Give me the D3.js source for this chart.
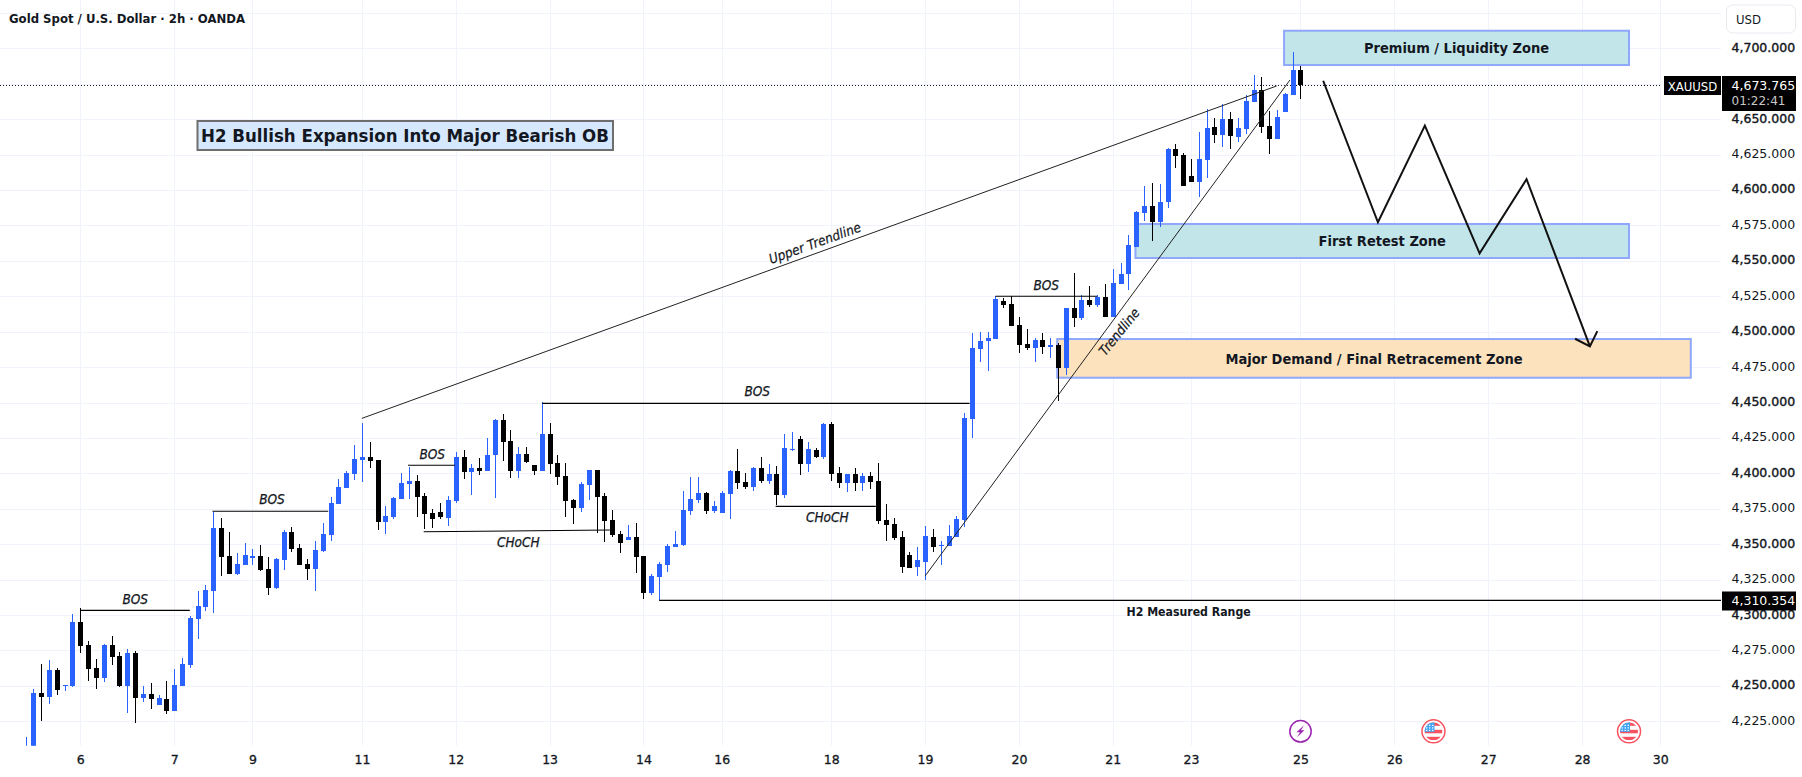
<!DOCTYPE html>
<html><head><meta charset="utf-8">
<script src="https://cdnjs.cloudflare.com/ajax/libs/d3/7.8.5/d3.min.js"></script>
<style>
html,body{margin:0;padding:0;background:#fff;overflow:hidden}
svg{display:block}
text{font-family:"DejaVu Sans",sans-serif;fill:#131722}
.cond{font-family:"DejaVu Sans Condensed","DejaVu Sans",sans-serif;font-stretch:condensed}
</style></head><body>
<svg id="c" width="1802" height="777"></svg>
<script>
// ---- data: bar index of first candle, then OHLC prices (2h bars)
const firstBar = -7;
const opens = [4195,4200,4245,4242.4,4261.2,4249.9,4249.9,4295.1,4278.8,4262.6,4255.6,4278.8,4271.1,4249.9,4273.2,4241.4,4244.2,4236.5,4240.7,4232.2,4249.9,4264.7,4297.2,4305.7,4317,4361.4,4341.7,4328.9,4335.3,4340.3,4341.7,4332.5,4319.1,4338.8,4358.6,4347.3,4336,4332.5,4345.2,4356.5,4378.4,4389.7,4399.5,4409.4,4411.5,4409.4,4365.7,4369.2,4381.9,4392.5,4394.6,4384,4372,4372.7,4368.5,4380.5,4411.5,4401,4403.8,4401.7,4413,4437.7,4422.8,4401.7,4413.7,4405.9,4401.7,4427.8,4407.3,4398.1,4381.2,4375.5,4391.8,4402.4,4384,4367.1,4357.2,4353,4355.1,4341.7,4315.5,4326.8,4335.3,4348,4349.4,4373.4,4381.2,4386.1,4373.4,4372,4385.4,4401.6,4393.8,4390.3,4403.7,4394.5,4399.5,4384.7,4417.1,4424.2,4406.5,4416.4,4411.5,4434.8,4400.2,4393.1,4399.5,4393.1,4398.1,4394.5,4367,4364.2,4355,4342.3,4333.8,4337.4,4355,4348.7,4348.7,4355,4367,4438.3,4487.7,4493.4,4494.8,4521.6,4519.5,4504.7,4491.2,4488.4,4494.1,4489.4,4490.5,4474.3,4516.7,4509.6,4522.3,4518.8,4524.5,4510.3,4533.6,4540.7,4559.8,4583.8,4588.7,4577.4,4591.5,4628.9,4624.7,4609.9,4605.6,4621.2,4644.5,4638.8,4650.1,4637.4,4643,4662.1,4670.6,4645.2,4636,4655.1,4667.1,4684.7];
const highs = [4214,4247.8,4265.4,4268.2,4262.6,4250.6,4300.7,4304.7,4281.7,4269,4279.5,4285.2,4273.9,4276,4274.6,4249.9,4252,4243.5,4253.4,4261.9,4269.7,4299.3,4317,4321.2,4372.7,4368.5,4358.6,4343.8,4350.8,4346.6,4349.4,4341,4340.3,4360,4362.1,4350.1,4339.5,4352.2,4365,4383.3,4396,4401.7,4420,4435.5,4422.1,4409.4,4377,4383.3,4400.3,4404.5,4398.8,4386.1,4374.8,4379.1,4384,4415.1,4416.5,4406.6,4410.8,4425,4438.4,4441.9,4430.6,4418.6,4418.6,4405.9,4450.1,4435.5,4413,4407.3,4381.9,4393.9,4402.4,4402.4,4386.1,4374.1,4359.3,4363.5,4365,4341.7,4329,4337.4,4350.1,4359.3,4387.5,4397.4,4397.4,4386.8,4380.5,4387.5,4402.4,4417.1,4400.2,4404.4,4411.5,4406.5,4405.1,4427.7,4429.1,4426.3,4422.1,4417.8,4435.5,4436.2,4404.4,4399.5,4403.7,4400.2,4400.9,4407.2,4378.3,4368.4,4359.2,4344.4,4348,4362.8,4360.6,4352.2,4363.5,4369.8,4442.5,4499,4499.7,4499.7,4525.1,4523.7,4525.1,4510.3,4501.8,4495.5,4499,4495.5,4492,4516.7,4541.4,4525.8,4532.2,4525.8,4533.6,4544.2,4548.5,4568.2,4585.2,4602.8,4604.9,4604.2,4629.6,4632.5,4626.1,4621.9,4640.9,4657.2,4650.8,4660.7,4655.1,4650.8,4667,4681.2,4679.8,4655.8,4656.5,4668.5,4697.4,4687.5];
const lows = [4190,4195,4225.4,4237.2,4243.5,4246.4,4249.2,4273.2,4253.4,4247.8,4252.7,4264.7,4249.2,4230.8,4223.8,4238.6,4233.7,4236.5,4230.1,4232.2,4249.9,4262.6,4283.1,4302.8,4301.4,4327.5,4328.9,4328.3,4335.3,4335.3,4331.1,4314.1,4318.4,4331.8,4344.5,4335.3,4324.7,4317,4344.5,4352.2,4378.4,4389.7,4395.3,4393.9,4403.8,4360,4357.2,4367.8,4381.9,4381.9,4369.2,4360.7,4361.4,4367.8,4362.8,4379.1,4396,4384.7,4398.8,4401.7,4382.6,4408.7,4396.7,4396.7,4407.3,4398.8,4401.7,4399.5,4391.8,4369.2,4364.3,4372.7,4381.2,4357.9,4351.5,4355.1,4343.8,4353,4329.7,4311.3,4314.1,4310.6,4330.4,4348,4348.7,4370.6,4379.1,4371.3,4372,4372,4367.8,4388.9,4388.9,4387.5,4393.1,4392.4,4377.6,4382.5,4415.7,4398.8,4400.9,4410.8,4410.1,4394.5,4389.6,4386.8,4387.5,4387.5,4388.9,4364.2,4352.2,4352.9,4329.6,4333.1,4327.5,4324.7,4344.4,4335.2,4348.7,4355,4362.1,4424.9,4478.5,4472.2,4494.8,4516.7,4504,4484.9,4487,4478.5,4484.2,4481.4,4451,4469.4,4503.2,4508.2,4517.4,4517.4,4510.3,4510.3,4533.6,4529.4,4559.8,4578.1,4564,4573.9,4587.3,4615.5,4602.8,4605.6,4595.1,4608.5,4633.2,4630.4,4628.9,4633.9,4639.5,4662.1,4640.2,4625.4,4636,4655.1,4667.1,4664.2];
const closes = [4205,4245,4242.4,4261.2,4247.1,4250.6,4295.1,4278.1,4261.9,4255.6,4278.8,4270.4,4249.9,4273.2,4241.4,4244.2,4240.7,4241.4,4232.2,4250.6,4265.4,4297.9,4306.4,4317.7,4361.4,4341,4328.9,4336,4342.4,4341.7,4331.8,4319.1,4339.5,4358.6,4346.6,4335.3,4332.5,4345.9,4357.2,4379.1,4390.4,4400.3,4410.1,4411.5,4408.7,4365.7,4369.9,4382.6,4393.2,4394.6,4383.3,4371.3,4367.8,4369.2,4381.2,4411.5,4401,4403.8,4401.7,4413,4437.7,4422.1,4401.7,4413.7,4408,4401.7,4427.8,4406.6,4397.4,4380.5,4375.5,4392.5,4402.4,4383.3,4366.4,4356.5,4350.8,4355.1,4341,4315.5,4327.5,4336,4348.7,4350.1,4374.1,4381.9,4386.1,4373.4,4377,4386.1,4401.7,4393.1,4390.3,4403.7,4394.5,4399.5,4384.7,4417.8,4417.1,4406.5,4417.1,4411.5,4434.8,4399.5,4393.1,4399.5,4393.1,4398.1,4393.8,4366.3,4363.5,4354.3,4333.8,4333.1,4338.8,4355.7,4348,4349.4,4355.7,4367.7,4439,4488.4,4493.4,4495.5,4523,4518.8,4504,4490.5,4488.4,4494.1,4489.1,4490.5,4474.3,4516.7,4509.6,4522.3,4518.8,4524.5,4510.3,4534.3,4540.7,4561.2,4584.5,4588.7,4577.4,4591.5,4628.9,4624,4602.8,4605.6,4621.9,4643.8,4638.8,4650.1,4638.1,4643.8,4662.8,4670.6,4644.5,4636,4651.5,4667.8,4684.7,4673.765];

const priceTicks = [4225,4250,4275,4300,4325,4350,4375,4400,4425,4450,4475,4500,4525,4550,4575,4600,4625,4650,4675,4700,4725];
const axisPriceTicks = [4225,4250,4275,4300,4325,4350,4375,4400,4425,4450,4475,4500,4525,4550,4575,4600,4625,4650,4700];
const dayBars   = [0,12,22,36,48,60,72,82,96,108,120,132,142,156,168,180,192,202];
const dayLabels = ["6","7","9","11","12","13","14","16","18","19","20","21","23","25","26","27","28","30"];

const lastPrice = 4673.765;
const rangeLow = 4310.354;
// drawings: [bar1, price1, bar2, price2]
const levelLines = [
 [0,4303.3,14,4303.3],[16.9,4373.2,31.7,4373.2],[41.9,4405.7,47.9,4405.7],
 [43.9,4358.8,67.7,4360],[59.05,4449.4,113.7,4449.4],[88.9,4376.7,101.7,4376.7],
 [117,4525,130,4525],[74,rangeLow,209.8,rangeLow]];
const trendLines = [[36,4438.8,152.95,4673.4],[108,4327.5,154.65,4677.6]];
const levelLabels = [
 ["BOS",7.03,4311.3,1],["BOS",24.5,4381.9,1],["BOS",45,4413.7,1],["CHoCH",56,4351.3,1],
 ["BOS",86.55,4458,1],["CHoCH",95.5,4369.2,1],["BOS",123.5,4533,1],["H2 Measured Range",141.7,4302.3,0]];
const zones = [
 {name:"Premium / Liquidity Zone",b1:153.9,b2:198,top:4712.4,bot:4688.2,fill:"#bde3e8"},
 {name:"First Retest Zone",b1:134.9,b2:198,top:4576,bot:4552,fill:"#bde3e8"},
 {name:"Major Demand / Final Retracement Zone",b1:124.9,b2:205.9,top:4494.8,bot:4467.5,fill:"#fde0b8"}];
const pathBars   = [158.9,165.9,171.9,178.9,184.9,193];
const pathPrices = [4677.1,4577.2,4645.4,4555.3,4607.6,4489.6];
const arrowBars   = [193.95,193,191.1];
const arrowPrices = [4500.4,4489.6,4495];
const events = [{bar:156,kind:"bolt"},{bar:173,kind:"flag"},{bar:198,kind:"flag"}];

// ---- scales
const W=1802,H=777,paneR=1721,paneB=745.7;
const x=d3.scaleLinear().domain([0,202]).range([80.3,1660.3]);
const y=d3.scaleLinear().domain([4700,4225]).range([48.3,721.3]);
const svg=d3.select("#c");
svg.append("defs").append("clipPath").attr("id","pane").append("rect").attr("width",paneR).attr("height",paneB);
const pane=svg.append("g").attr("clip-path","url(#pane)");

// grid
pane.append("g").selectAll("line").data(priceTicks).join("line")
 .attr("x1",0).attr("x2",paneR).attr("y1",d=>Math.round(y(d))+.5).attr("y2",d=>Math.round(y(d))+.5)
 .attr("stroke","#f0f3fa");
pane.append("g").selectAll("line").data(dayBars).join("line")
 .attr("y1",0).attr("y2",paneB).attr("x1",d=>Math.round(x(d))+.5).attr("x2",d=>Math.round(x(d))+.5)
 .attr("stroke","#f0f3fa");

// zones
pane.append("g").selectAll("rect").data(zones).join("rect")
 .attr("x",d=>x(d.b1)).attr("width",d=>x(d.b2)-x(d.b1)).attr("y",d=>y(d.top)).attr("height",d=>y(d.bot)-y(d.top))
 .attr("fill",d=>d.fill).attr("fill-opacity",.92).attr("stroke","#8fa8fb").attr("stroke-width",2);

// last price dotted line
pane.append("line").attr("x1",0).attr("x2",1662).attr("y1",Math.round(y(lastPrice))+.5).attr("y2",Math.round(y(lastPrice))+.5)
 .attr("stroke","#131722").attr("stroke-dasharray","1 2");

// candles
const candles=opens.map((o,i)=>({bar:firstBar+i,o,h:highs[i],l:lows[i],c:closes[i]}));
const cg=pane.append("g").attr("shape-rendering","crispEdges");
const col=d=>d.c>=d.o?"#2962ff":"#000";
cg.selectAll("rect.w").data(candles).join("rect").attr("class","w")
 .attr("x",d=>Math.round(x(d.bar))).attr("width",1)
 .attr("y",d=>y(d.h)).attr("height",d=>y(d.l)-y(d.h)).attr("fill",col);
cg.selectAll("rect.b").data(candles).join("rect").attr("class","b")
 .attr("x",d=>Math.round(x(d.bar))-2).attr("width",5)
 .attr("y",d=>y(Math.max(d.o,d.c))).attr("height",d=>Math.max(1,Math.abs(y(d.o)-y(d.c)))).attr("fill",col);

// level + trend lines
const drawLines=(data,w,c)=>pane.append("g").selectAll("line").data(data).join("line")
 .attr("x1",d=>x(d[0])).attr("y1",d=>y(d[1])).attr("x2",d=>x(d[2])).attr("y2",d=>y(d[3]))
 .attr("stroke",c).attr("stroke-width",w);
drawLines(levelLines,1.1,"#000");
drawLines(trendLines,1,"#222");

// zigzag
const zz=d3.line().x(d=>x(d[0])).y(d=>y(d[1]));
pane.append("path").attr("d",zz(pathBars.map((b,i)=>[b,pathPrices[i]])))
 .attr("fill","none").attr("stroke","#111").attr("stroke-width",2);
pane.append("path").attr("d",zz(arrowBars.map((b,i)=>[b,arrowPrices[i]])))
 .attr("fill","none").attr("stroke","#111").attr("stroke-width",2);

// texts
pane.append("g").selectAll("text").data(zones).join("text").text(d=>d.name).attr("class","cond")
 .attr("x",d=>(x(d.b1)+x(d.b2))/2).attr("y",d=>(y(d.top)+y(d.bot))/2).attr("dy","0.36em")
 .attr("text-anchor","middle").attr("font-size",14.5).attr("font-weight","bold");

pane.append("g").selectAll("text").data(levelLabels).join("text").text(d=>d[0]).attr("class","cond")
 .attr("x",d=>x(d[1])).attr("y",d=>y(d[2])).attr("dy","0.36em").attr("text-anchor","middle")
 .attr("font-size",d=>d[3]?13.5:12.2).attr("font-style",d=>d[3]?"italic":"normal")
 .attr("font-weight",d=>d[3]?"normal":"bold")
 .attr("stroke",d=>d[3]?"#131722":"none").attr("stroke-width",.25);

const rot=(label,bar,price,ang)=>pane.append("text").text(label).attr("class","cond")
 .attr("transform",`translate(${x(bar)},${y(price)}) rotate(${ang})`).attr("dy","0.36em")
 .attr("text-anchor","middle").attr("font-size",13.5).attr("font-style","italic")
 .attr("stroke","#131722").attr("stroke-width",.2);
rot("Upper Trendline",93.9,4562.6,-20);
rot("Trendline",132.8,4500,-51);

// headline box
const hl=svg.append("g");
hl.append("rect").attr("x",197.5).attr("y",121).attr("width",415.5).attr("height",29)
 .attr("fill","#d6e8fd").attr("stroke","#6e6e6e").attr("stroke-width",2);
hl.append("text").text("H2 Bullish Expansion Into Major Bearish OB").attr("class","cond")
 .attr("x",405).attr("y",135.5).attr("dy","0.36em")
 .attr("text-anchor","middle").attr("font-size",18.5).attr("font-weight","bold");

svg.append("text").text("Gold Spot / U.S. Dollar · 2h · OANDA").attr("class","cond")
 .attr("x",9).attr("y",18).attr("dy","0.36em").attr("font-size",13).attr("font-weight","bold");

// axes
const ya=svg.append("g").attr("transform",`translate(1731.5,-1)`)
 .call(d3.axisRight(y).tickValues(axisPriceTicks).tickFormat(d3.format(",.3f")).tickSize(0).tickPadding(0));
ya.select(".domain").remove();
ya.selectAll("text").attr("font-size",12.5).attr("fill","#131722").attr("font-family",'"DejaVu Sans"')
 .attr("stroke",d=>d%50===0?"#131722":"none").attr("stroke-width",.4);
const xa=svg.append("g").attr("transform",`translate(0,755)`)
 .call(d3.axisBottom(x).tickValues(dayBars).tickFormat((d,i)=>dayLabels[i]).tickSize(0).tickPadding(0));
xa.select(".domain").remove();
xa.selectAll("text").attr("font-size",12.5).attr("font-family",'"DejaVu Sans"').attr("fill","#131722")
 .attr("stroke","#131722").attr("stroke-width",.3);

// USD box
svg.append("rect").attr("x",1726.5).attr("y",5).attr("width",69).attr("height",28).attr("rx",6)
 .attr("fill","#fff").attr("stroke","#e8eaf0");
svg.append("text").text("USD").attr("class","cond").attr("x",1736).attr("y",19).attr("dy","0.36em").attr("font-size",13);

// price tags
const tag=(x0,y0,w,h)=>svg.append("rect").attr("x",x0).attr("y",y0).attr("width",w).attr("height",h).attr("fill","#000");
tag(1664,76,57,19);
svg.append("text").text("XAUUSD").attr("class","cond").attr("x",1692.5).attr("y",86).attr("dy","0.36em").attr("text-anchor","middle")
 .attr("font-size",13).style("fill","#fff");
tag(1722,76,74,35);
svg.append("text").text(d3.format(",.3f")(lastPrice)).attr("x",1731.5).attr("y",85).attr("dy","0.36em")
 .attr("font-size",12.5).style("fill","#fff");
svg.append("text").text("01:22:41").attr("x",1731.5).attr("y",100.5).attr("dy","0.36em")
 .attr("font-size",12).style("fill","#c8c8c8");
tag(1722,591.5,74,19);
svg.append("text").text(d3.format(",.3f")(rangeLow)).attr("x",1731.5).attr("y",600.5).attr("dy","0.36em")
 .attr("font-size",12.5).style("fill","#fff");

// event icons
const ev=pane.append("g");
events.forEach((e,k)=>{
 const g=ev.append("g").attr("transform",`translate(${x(e.bar)},731.3)`);
 if(e.kind==="bolt"){
  g.append("circle").attr("r",10.7).attr("fill","#fff").attr("stroke","#9c27b0").attr("stroke-width",1.5);
  g.append("path").attr("d","M3.5,-6 L-4,1 L-0.5,1 L-3.5,6 L4,-1 L0.5,-1 Z").attr("fill","#9c27b0");
 } else {
  const id="fl"+k;
  g.append("clipPath").attr("id",id).append("circle").attr("r",9);
  g.append("circle").attr("r",11.5).attr("fill","#fff").attr("stroke","#f7525f").attr("stroke-width",1.5);
  const f=g.append("g").attr("clip-path",`url(#${id})`);
  f.append("rect").attr("x",-9).attr("y",-9).attr("width",18).attr("height",18).attr("fill","#fff");
  [-9,-1.5,5.5].forEach(yy=>f.append("rect").attr("x",-9).attr("y",yy).attr("width",18).attr("height",3.5).attr("fill","#f7525f"));
  f.append("rect").attr("x",-9).attr("y",-9).attr("width",10).attr("height",9.5).attr("fill","#42a5f5");
  for(let a=0;a<3;a++)for(let b=0;b<3;b++)
   f.append("rect").attr("x",-7.5+a*3).attr("y",-6.5+b*2.5).attr("width",1.4).attr("height",1.2).attr("fill","#fff");
 }
});
</script>
</body></html>
